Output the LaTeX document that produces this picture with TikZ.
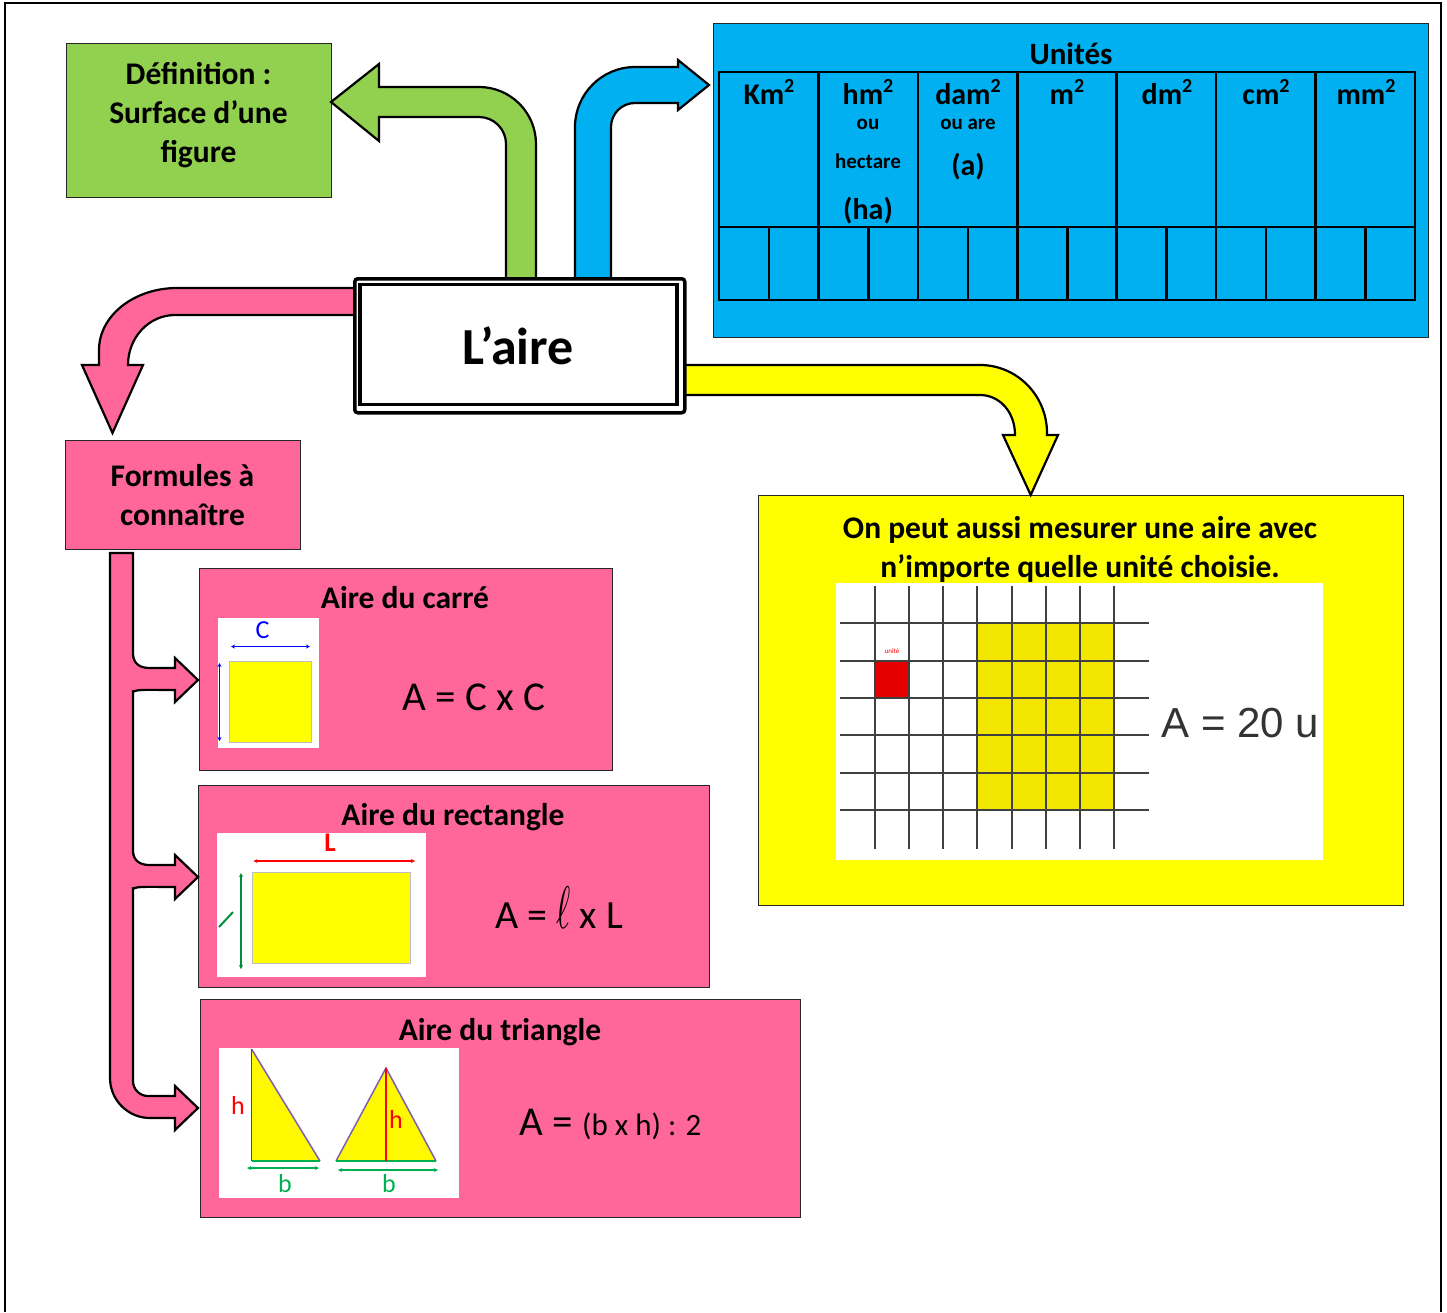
\documentclass[tikz,border=0pt]{standalone}
\usepackage{fontspec}
\setmainfont{Carlito}
\newfontfamily\arialf{Liberation Sans}
\usepackage{graphicx}
\usetikzlibrary{arrows.meta}
\definecolor{vert}{HTML}{92D050}
\definecolor{bleu}{HTML}{00B0F0}
\definecolor{rose}{HTML}{FF6699}
\definecolor{jaune}{HTML}{FFFF00}
\definecolor{gridy}{HTML}{F2E600}
\definecolor{tvert}{HTML}{00B050}
\definecolor{tviol}{HTML}{7F5FB0}
\newcommand\fs[1]{\fontsize{#1}{#1}\selectfont}
\newcommand\sqtwo{\raisebox{12pt}{\fs{20}2}}
\tikzset{
  boxst/.style={draw=black!85, line width=1.3pt, anchor=north west, inner sep=0pt},
  titre/.style={font=\bfseries\fontsize{31.5}{39}\selectfont, align=center},
  arrline/.style={draw=black, line width=2.2pt, line join=miter},
  tbl/.style={draw=black, line width=2.5pt},
  gl/.style={draw=black!75, line width=1.8pt},
  smarr/.style={line width=1.2pt, {Stealth[length=4pt,width=4pt]}-{Stealth[length=4pt,width=4pt]}},
}
\begin{document}
\begin{tikzpicture}[x=1pt,y=-1pt]
\useasboundingbox (0,0) rectangle (1447,1312);
\fill[white] (0,0) rectangle (1447,1312);
% page frame
\draw[line width=2pt] (5,1312) -- (5,3) -- (1441,3) -- (1441,1312);

% ---------- boxes ----------
\node[boxst, fill=vert, minimum width=265pt, minimum height=154pt] (def) at (66,43) {};
\node[titre] (deft) at (198.5,115) {Définition :\\Surface d’une\\figure};

\node[boxst, fill=bleu, minimum width=715pt, minimum height=314pt] (unit) at (713,23) {};
\node[font=\bfseries\fs{31}, anchor=base] (unitt) at (1071,64) {Unités};
\draw[tbl] (719,72) rectangle (1415,300);
\draw[tbl] (719,227) -- (1415,227);
\foreach \i in {1,...,6} \draw[tbl] ({719+\i*99.43},72) -- ({719+\i*99.43},300);
\foreach \i in {0,...,6} \draw[tbl] ({769+\i*99.43},227) -- ({769+\i*99.43},300);
\begin{scope}[every node/.style={font=\bfseries\fs{30}, anchor=base}]
\node (u1) at (769,104) {Km\sqtwo};
\node (u2) at (868,104) {hm\sqtwo};
\node (u3) at (968,104) {dam\sqtwo};
\node (u4) at (1067,104) {m\sqtwo};
\node (u5) at (1167,104) {dm\sqtwo};
\node (u6) at (1266,104) {cm\sqtwo};
\node (u7) at (1366,104) {mm\sqtwo};
\node (ha) at (868,219) {(ha)};
\node (aa) at (968,175) {(a)};
\end{scope}
\node[font=\bfseries\fs{21}, anchor=base] (ou1) at (868,129) {ou};
\node[font=\bfseries\fs{21}, anchor=base] (hect) at (868,168) {hectare};
\node[font=\bfseries\fs{21}, anchor=base] (ou2) at (968,129) {ou are};

% yellow box
\node[boxst, fill=jaune, minimum width=645pt, minimum height=410pt] (jbox) at (758,495) {};
\node[titre] (jt) at (1080,549) {On peut aussi mesurer une aire avec\\n’importe quelle unité choisie.};
\fill[white] (836,583) rectangle (1323,860);
\fill[gridy] (977,623) rectangle (1114,810);
\fill[red!90!black] (875,661) rectangle (909,698);
\foreach \x in {875,909,943,977,1012,1046,1080,1114} \draw[gl] (\x,586) -- (\x,849);
\foreach \y in {623,661,698,735,773,810} \draw[gl] (840,\y) -- (1149,\y);
\node[red, font=\fs{7}] (unite) at (892,651) {unité};
\node[anchor=base west, font=\arialf\fs{42}, text=black!80] (a20) at (1158,737) {A = 20 u};

% pink boxes
\node[boxst, fill=rose, minimum width=235pt, minimum height=109pt] (form) at (65,440) {};
\node[titre] (formt) at (182.5,495) {Formules à\\connaître};

\node[boxst, fill=rose, minimum width=413pt, minimum height=202pt] (carre) at (199,568) {};
\node[font=\bfseries\fs{31.5}] (carret) at (405,598) {Aire du carré};
\fill[white] (218,618) rectangle (319,748);
\draw[black!25, line width=1pt, fill=jaune] (229.5,661) rectangle (311.5,742.5);
\draw[blue, smarr] (231,646.5) -- (310,646.5);
\draw[blue, smarr] (219.5,663) -- (219.5,741);
\node[blue, font=\fs{26}] (cl) at (262.5,630) {C};
\node[anchor=base west, font=\fs{41}] (fc) at (399,710) {A = C x C};

\node[boxst, fill=rose, minimum width=511pt, minimum height=202pt] (rect) at (198,785) {};
\node[font=\bfseries\fs{31.5}] (rectt) at (453,817) {Aire du rectangle};
\fill[white] (217,833) rectangle (426,977);
\draw[black!25, line width=1pt, fill=jaune] (252,872) rectangle (410.5,963);
\draw[red, smarr] (253.5,861) -- (415,861);
\node[red, font=\bfseries\fs{27}] (ll) at (330,843) {L};
\draw[tvert!80!black, smarr] (241,873) -- (241,969);
\draw[tvert!80!black, line width=2pt] (219,927) -- (233,912);
\node[anchor=base west, font=\fs{40}] (fr) at (492,928) {A = {\fs{10}\raisebox{-0.5pt}{\scalebox{3.4}[6]{$\ell$}}} x L};

\node[boxst, fill=rose, minimum width=600pt, minimum height=218pt] (tri) at (200,999) {};
\node[font=\bfseries\fs{31.5}] (trit) at (500,1032) {Aire du triangle};
\fill[white] (219,1048) rectangle (459,1198);
\fill[jaune!95!orange] (251.5,1049) -- (251.5,1161) -- (320,1161) -- cycle;
\draw[tviol, line width=1.5pt] (251.5,1049) -- (320,1161);
\draw[tvert, line width=1.5pt] (251.5,1161) -- (320,1161);
\draw[red, line width=1.5pt] (251.5,1049) -- (251.5,1161);
\fill[jaune!95!orange] (386,1068) -- (336,1161) -- (436,1161) -- cycle;
\draw[tviol, line width=1.5pt] (336,1161) -- (386,1068) -- (436,1161);
\draw[tvert, line width=1.5pt] (336,1161) -- (436,1161);
\draw[red, line width=1.5pt] (386,1068) -- (386,1161);
\draw[tvert, smarr] (247,1168) -- (319,1168);
\draw[tvert, smarr] (338,1170) -- (438,1170);
\node[red, font=\fs{26}] (h1) at (238,1105) {h};
\node[red, font=\fs{26}] (h2) at (396,1119) {h};
\node[tvert, font=\fs{26}] (b1) at (285,1184) {b};
\node[tvert, font=\fs{26}] (b2) at (389,1184) {b};
\node[anchor=base west] (ft) at (516,1135) {\fs{41}A = \fs{31}(b x h) : 2};

% ---------- block arrows ----------
% green
\path[fill=vert, arrline] (536,277) -- (536,144) .. controls (536,112.5) and (510.5,87) .. (479,87) -- (379,87) -- (379,64) -- (331,102) -- (379,141) -- (379,117) -- (479,117) .. controls (493.9,117) and (506,129.1) .. (506,144) -- (506,277);
% blue
\path[fill=bleu, arrline] (575,277) -- (575,127) .. controls (575,93.9) and (601.9,67) .. (635,67) -- (678,67) -- (678,60) -- (709,85) -- (678,110) -- (678,103) -- (635,103) .. controls (621.7,103) and (611,113.7) .. (611,127) -- (611,277);
% pink to Formules
\path[fill=rose, arrline] (357,288) -- (177,288) .. controls (133.9,288) and (99,315.8) .. (99,350) -- (99,365) -- (82,365) -- (112.5,433) -- (143,365) -- (128,365) .. controls (128,337.4) and (149,315) .. (175,315) -- (357,315);
% yellow
\path[fill=jaune, arrline] (683,365) -- (980,365) .. controls (1017,365) and (1047,395.5) .. (1047,433) -- (1047,435) -- (1058,435) -- (1030.7,495) -- (1003,435) -- (1015,435) .. controls (1015,411.6) and (999.3,395) .. (980,395) -- (683,395);
% pink branch bar
\path[fill=rose, arrline] (133,553) -- (110,553) -- (110,1078) .. controls (110,1100) and (128,1118) .. (150,1118) -- (175,1118) -- (175,1130) -- (198,1108) -- (175,1086) -- (175,1096) -- (148,1096) .. controls (139.7,1096) and (133,1089.3) .. (133,1081) -- cycle;
\foreach \dy in {0,197} {
  \fill[rose] (131,{654+\dy}) .. controls (134,{664+\dy}) and (140,{668+\dy}) .. (150,{668+\dy}) -- (175,{668+\dy}) -- (175,{658+\dy}) -- (198,{680+\dy}) -- (175,{702+\dy}) -- (175,{690+\dy}) -- (131,{690+\dy}) -- cycle;
  \draw[arrline] (133,{655+\dy}) .. controls (134,{664+\dy}) and (140,{668+\dy}) .. (150,{668+\dy}) -- (175,{668+\dy}) -- (175,{658+\dy}) -- (198,{680+\dy}) -- (175,{702+\dy}) -- (175,{690+\dy}) .. controls (150,{690+\dy}) and (136,{689+\dy}) .. (133,{692+\dy});
}

% ---------- central node ----------
\node[draw=black, line width=3.5pt, rounded corners=3pt, fill=white, minimum width=330pt, minimum height=134pt, anchor=north west, inner sep=0pt] (laire) at (353,277) {};
\draw[line width=3.3pt] (360,284.5) rectangle (677,404.5);
\node[font=\bfseries\fs{52}] (lairet) at (518,346) {L’aire};
\end{tikzpicture}
\end{document}
